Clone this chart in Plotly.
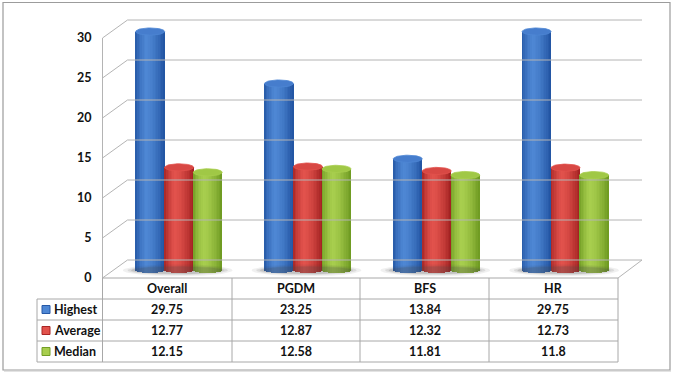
import numpy as np
import plotly.graph_objects as go

# ---------------- data ----------------
categories = ["Overall", "PGDM", "BFS", "HR"]
series_names = ["Highest", "Average", "Median"]
highest = [29.75, 23.25, 13.84, 29.75]
average = [12.77, 12.87, 12.32, 12.73]
median = [12.15, 12.58, 11.81, 11.8]
y_ticks = [0, 5, 10, 15, 20, 25, 30]

series_values = [highest, average, median]

# ---------------- styling ----------------
W, H = 673, 373
X0, CW = 102.5, 128.8      # pixel of category 0 left edge, pixel width of a category
Y0, S = 278.0, 8.0         # pixel of value 0 (front), pixels per unit
DX = 25 / CW               # depth offset in x units
DY = 18 / S                # depth offset in value units
FONT = "Lato"
GRID = "#b4b4b4"

dark = [(32, 82, 160), (160, 32, 32), (108, 152, 32)]
light = [(78, 135, 212), (226, 82, 76), (168, 206, 78)]
topc = ["rgb(70,125,205)", "rgb(216,72,68)", "rgb(160,200,70)"]


def px2x(px):
    return (px - X0) / CW


def py2v(py):
    return (Y0 - py) / S


def shade(k, t):
    """t in [-1,1] left->right across the cylinder"""
    if t < -0.3:
        f = ((t + 1) / 0.7) ** 0.6
        a, b = dark[k], light[k]
    else:
        f = ((t + 0.3) / 1.3) ** 1.6
        a, b = light[k], dark[k]
    c = [a[i] + (b[i] - a[i]) * f for i in range(3)]
    return "rgb(%d,%d,%d)" % tuple(int(round(v)) for v in c)


fig = go.Figure()

# ---------------- walls / grid ----------------
xl_back = DX
xr_back = px2x(642)
xr_front = px2x(618)
shapes = []
for v in y_ticks:
    shapes.append(dict(type="line", x0=xl_back, x1=xr_back, y0=v + DY, y1=v + DY,
                       line=dict(color=GRID, width=1)))
    shapes.append(dict(type="line", x0=0, x1=xl_back, y0=v, y1=v + DY,
                       line=dict(color=GRID, width=1)))
shapes.append(dict(type="line", x0=0, x1=0, y0=0, y1=30, line=dict(color=GRID, width=1)))
shapes.append(dict(type="line", x0=xr_front, x1=xr_back, y0=0, y1=DY,
                   line=dict(color=GRID, width=1)))

# ---------------- floor shadows ----------------
cx_off = [0.37, 0.595, 0.817]
BW = 0.225
R = BW / 2
A = 0.45       # ellipse semi height in value units
BASE = 1.06
th = np.linspace(0, 2 * np.pi, 60)
for i in range(len(categories)):
    for grow, op in [(1.0, 0.08), (0.6, 0.12), (0.3, 0.16)]:
        cx = i + (cx_off[0] + cx_off[2]) / 2 - 0.01
        rx = (cx_off[2] - cx_off[0]) / 2 + R + 0.09 * grow
        ry = 0.35 + 0.4 * grow
        fig.add_trace(go.Scatter(x=cx + rx * np.cos(th), y=BASE - 0.1 + ry * np.sin(th),
                                 fill="toself", mode="lines", line=dict(width=0),
                                 fillcolor="rgba(70,70,70,%.2f)" % op,
                                 hoverinfo="skip", showlegend=False))

# ---------------- cylinders ----------------
N = 18
for k, vals in enumerate(series_values):
    for j in range(N):
        t = -1 + (2 * j + 1) / N
        dyv = A * np.sqrt(max(0.0, 1 - t * t))
        xs = [i + cx_off[k] + t * R for i in range(len(categories))]
        fig.add_trace(go.Bar(
            x=xs, y=[v + dyv for v in vals], base=[BASE - dyv] * len(vals),
            width=BW / N * 1.25, marker=dict(color=shade(k, t), line=dict(width=0)),
            hoverinfo="skip", showlegend=False))
    tx, ty = [], []
    for i, v in enumerate(vals):
        cx = i + cx_off[k]
        tx += list(cx + R * np.cos(th)) + [None]
        ty += list(BASE + v + A * np.sin(th)) + [None]
    fig.add_trace(go.Scatter(x=tx, y=ty, fill="toself", mode="lines",
                             line=dict(width=0.8, color=shade(k, -0.3)),
                             fillcolor=topc[k], hoverinfo="skip", showlegend=False))

# ---------------- data table ----------------
row_lines = [278, 299, 320, 341, 362]
col_lines = [X0, 232, 360, 489, 618]
TG = "#a8a8a8"
shapes.append(dict(type="line", x0=0, x1=xr_front, y0=0, y1=0, line=dict(color=TG, width=1)))
for py in row_lines[1:]:
    shapes.append(dict(type="line", x0=px2x(37), x1=xr_front, y0=py2v(py), y1=py2v(py),
                       line=dict(color=TG, width=1)))
shapes.append(dict(type="line", x0=px2x(37), x1=px2x(37), y0=py2v(299), y1=py2v(362),
                   line=dict(color=TG, width=1)))
for px in col_lines:
    shapes.append(dict(type="line", x0=px2x(px), x1=px2x(px), y0=0, y1=py2v(362),
                       line=dict(color=TG, width=1)))

annots = []
for i, c in enumerate(categories):
    annots.append(dict(x=i + 0.5, y=py2v(288.5), text="<b>%s</b>" % c, showarrow=False,
                       font=dict(family=FONT, size=12.5, color="#111")))
for k, (name, vals) in enumerate(zip(series_names, series_values)):
    yc = py2v((row_lines[k + 1] + row_lines[k + 2]) / 2)
    for i, v in enumerate(vals):
        annots.append(dict(x=i + 0.5, y=yc, text="<b>%s</b>" % v, showarrow=False,
                           font=dict(family=FONT, size=12.5, color="#111")))
    annots.append(dict(x=px2x(52), y=yc, text="<b>%s</b>" % name, showarrow=False,
                       xanchor="left", font=dict(family=FONT, size=12.5, color="#111")))
    shapes.append(dict(type="rect", x0=px2x(42), x1=px2x(50), y0=yc - 4 / S, y1=yc + 4 / S,
                       fillcolor=shade(k, -0.3), line=dict(color=shade(k, 0.9), width=1)))

# outer border
shapes.append(dict(type="rect", xref="paper", yref="paper", x0=3 / W, x1=670 / W,
                   y0=1 - 370 / H, y1=1 - 2.5 / H, line=dict(color="#9c9c9c", width=1.2),
                   layer="below"))
shapes.append(dict(type="line", xref="paper", yref="paper", x0=4 / W, x1=671 / W,
                   y0=1 - 371 / H, y1=1 - 371 / H, line=dict(color="#c8c8c8", width=1.2),
                   layer="below"))

fig.update_layout(
    width=W, height=H, autosize=False,
    margin=dict(l=0, r=0, t=0, b=0, pad=0),
    paper_bgcolor="white", plot_bgcolor="white",
    barmode="overlay", bargap=0,
    shapes=shapes, annotations=annots, showlegend=False,
    xaxis=dict(range=[px2x(0), px2x(W)], visible=False, fixedrange=True),
    yaxis=dict(range=[py2v(H), py2v(0)], anchor="free", position=X0 / W,
               tickvals=y_ticks, ticktext=["<b>%d</b>" % v for v in y_ticks],
               showgrid=False, zeroline=False, showline=False, ticks="",
               ticklabelstandoff=11,
               tickfont=dict(family=FONT, size=12.5, color="#111"), fixedrange=True),
)

fig.write_html("out.html", config={"displayModeBar": False},
               post_script="document.body.style.margin='0';document.body.style.overflow='hidden';")
